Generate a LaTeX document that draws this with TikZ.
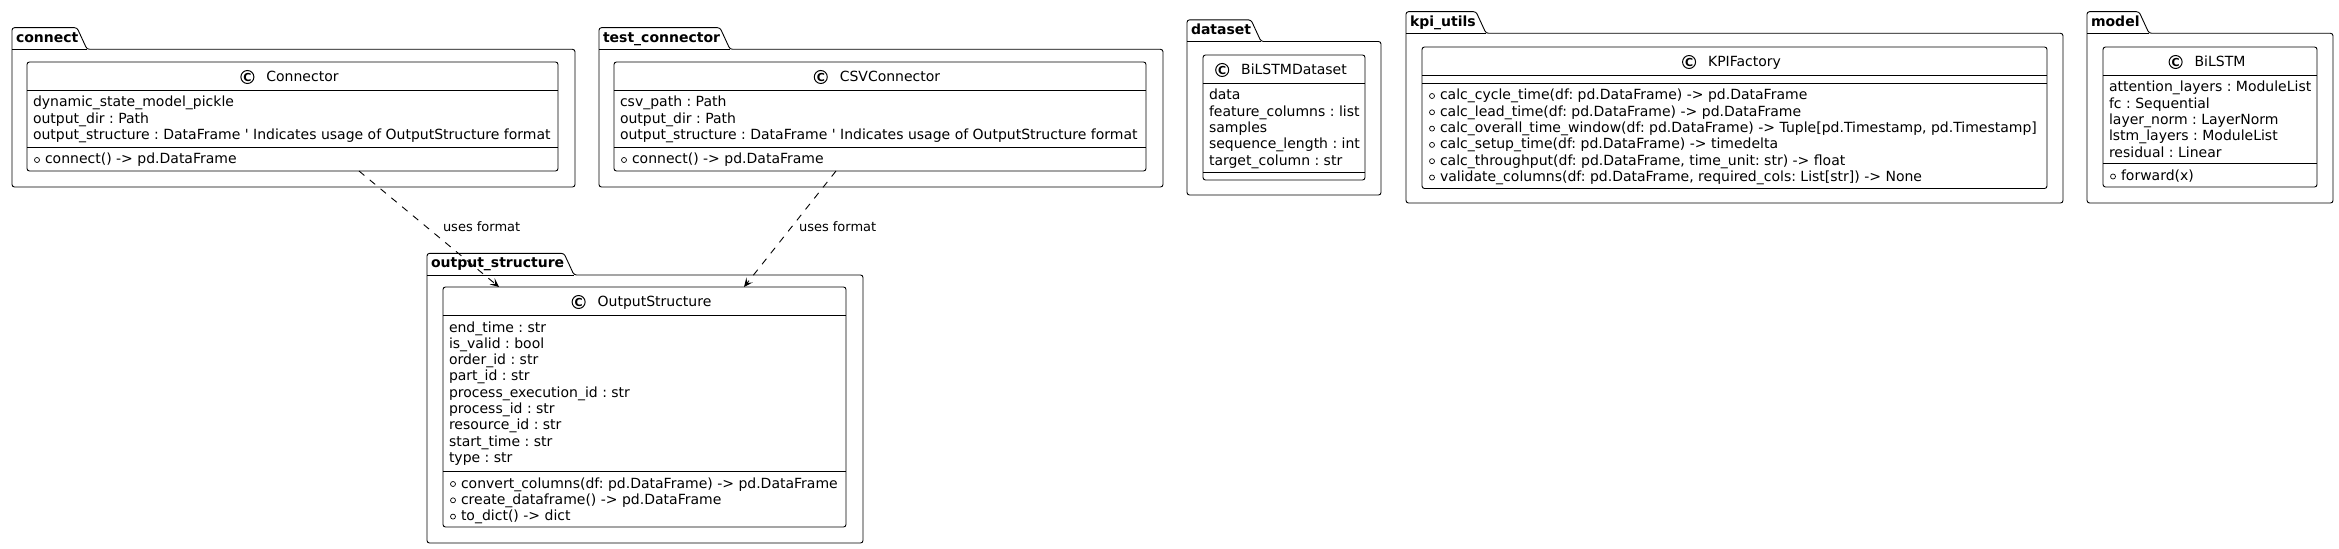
\documentclass[tikz,border=0pt]{standalone}
\usepackage{fontspec}
\setmainfont{DejaVu Sans}
\usetikzlibrary{arrows.meta}
\frenchspacing
\newcounter{tn}
\newcommand{\tl}[3]{\stepcounter{tn}\node[txt] (txt\arabic{tn}) at (#1,#2) {#3};}
\newcommand{\ml}[3]{\stepcounter{tn}\node[vis] (mk\arabic{tn}) at (#1+10,#2-4) {};\node[txt] (txt\arabic{tn}) at (#1+18,#2) {#3};}
\newcommand{\clstitle}[4]{\node[ttl] (#1T) at (#2+10,#3+20) {#4};\node[spot] (#1C) at ([shift={(-19,-5)}]#1T.base west) {C};}
\newcommand{\pkgpath}[8]{% name, label, L, T, sx, BT, R, B
  \draw[pkg] (#3,#8) -- (#3,#4) -- (#5,#4) -- (#5+10,#6) -- (#7,#6) -- (#7,#8) -- cycle;
  \draw[pkg] (#3,#6) -- (#5+10,#6);
  \node[pkgname] (#1) at (#3+4,#6-7) {#2};}
\begin{document}
\begin{tikzpicture}[x=1bp,y=-1bp,
  every node/.style={inner sep=0pt, outer sep=0pt},
  txt/.style={anchor=base west, font=\fontsize{14bp}{16bp}\selectfont\frenchspacing},
  ttl/.style={anchor=base, font=\fontsize{14bp}{16bp}\selectfont},
  pkgname/.style={anchor=base west, font=\fontsize{14bp}{16bp}\selectfont\bfseries},
  lbl/.style={anchor=base west, font=\fontsize{13bp}{15bp}\selectfont},
  pkg/.style={draw=black, line width=0.9bp, rounded corners=2.5bp},
  cls/.style={draw=black, line width=0.9bp, rounded corners=2.5bp, fill=white, rectangle},
  div/.style={draw=black, line width=0.9bp},
  spot/.style={circle, draw=black, line width=1bp, minimum size=13bp, font=\fontsize{11bp}{11bp}\selectfont\bfseries},
  vis/.style={circle, draw=black, line width=0.7bp, minimum size=5bp},
  dep/.style={draw=black, line width=0.9bp, dash pattern=on 7bp off 7bp, -{Stealth[length=9bp,width=8bp,inset=4bp]}},
]
\useasboundingbox (0,0) rectangle (2339,549);

% packages
\pkgpath{pconnect}{connect}{12}{27.7}{77}{49.3}{575}{187}
\pkgpath{ptest}{test\_connector}{599}{27.7}{720}{49.3}{1163}{187}
\pkgpath{pdataset}{dataset}{1187}{19.9}{1251}{41.5}{1381}{195}
\pkgpath{pkpi}{kpi\_utils}{1406}{11.7}{1476}{33.3}{2063}{203}
\pkgpath{pmodel}{model}{2087}{11.7}{2139}{33.3}{2333}{203}
\pkgpath{poutput}{output\_structure}{427}{253.4}{564}{275}{863}{543}

% Connector
\node[cls, minimum width=531bp, minimum height=109bp] (connector) at (292.5,116.5) {};
\draw[div] (27,90) -- (558,90);
\draw[div] (27,147) -- (558,147);
\clstitle{connectorN}{292.5}{62}{Connector}
\tl{33}{107}{dynamic\_state\_model\_pickle}
\tl{33}{123.3}{output\_dir : Path}
\tl{33}{139.6}{output\_structure : DataFrame \textquotesingle{} Indicates usage of OutputStructure format}
\ml{27}{164}{connect() -> pd.DataFrame}

% CSVConnector
\node[cls, minimum width=532bp, minimum height=109bp] (csvconnector) at (880,116.5) {};
\draw[div] (614,90) -- (1146,90);
\draw[div] (614,147) -- (1146,147);
\clstitle{csvN}{880}{62}{CSVConnector}
\tl{620}{107}{csv\_path : Path}
\tl{620}{123.3}{output\_dir : Path}
\tl{620}{139.6}{output\_structure : DataFrame \textquotesingle{} Indicates usage of OutputStructure format}
\ml{614}{164}{connect() -> pd.DataFrame}

% BiLSTMDataset
\node[cls, minimum width=162bp, minimum height=125bp] (bilstmdataset) at (1284,117.5) {};
\draw[div] (1203,83) -- (1365,83);
\draw[div] (1203,172) -- (1365,172);
\clstitle{dsN}{1284}{55}{BiLSTMDataset}
\tl{1209}{100}{data}
\tl{1209}{116.3}{feature\_columns : list}
\tl{1209}{132.6}{samples}
\tl{1209}{148.9}{sequence\_length : int}
\tl{1209}{165.2}{target\_column : str}

% KPIFactory
\node[cls, minimum width=625bp, minimum height=141.5bp] (kpifactory) at (1734.5,117.75) {};
\draw[div] (1422,75) -- (2047,75);
\draw[div] (1422,83) -- (2047,83);
\clstitle{kpiN}{1734.5}{47}{KPIFactory}
\ml{1422}{100}{calc\_cycle\_time(df: pd.DataFrame) -> pd.DataFrame}
\ml{1422}{116.3}{calc\_lead\_time(df: pd.DataFrame) -> pd.DataFrame}
\ml{1422}{132.6}{calc\_overall\_time\_window(df: pd.DataFrame) -> Tuple[pd.Timestamp, pd.Timestamp]}
\ml{1422}{148.9}{calc\_setup\_time(df: pd.DataFrame) -> timedelta}
\ml{1422}{165.2}{calc\_throughput(df: pd.DataFrame, time\_unit: str) -> float}
\ml{1422}{181.5}{validate\_columns(df: pd.DataFrame, required\_cols: List[str]) -> None}

% BiLSTM
\node[cls, minimum width=214bp, minimum height=140bp] (bilstm) at (2210,117) {};
\draw[div] (2103,75) -- (2317,75);
\draw[div] (2103,163.5) -- (2317,163.5);
\clstitle{bilstmN}{2210}{47}{BiLSTM}
\tl{2109}{92}{attention\_layers : ModuleList}
\tl{2109}{108.3}{fc : Sequential}
\tl{2109}{124.6}{layer\_norm : LayerNorm}
\tl{2109}{140.9}{lstm\_layers : ModuleList}
\tl{2109}{157.2}{residual : Linear}
\ml{2103}{180.5}{forward(x)}

% OutputStructure
\node[cls, minimum width=403bp, minimum height=240bp] (outputstructure) at (644.5,407) {};
\draw[div] (443,315) -- (846,315);
\draw[div] (443,471) -- (846,471);
\clstitle{osN}{644.5}{287}{OutputStructure}
\tl{449}{332}{end\_time : str}
\tl{449}{348.3}{is\_valid : bool}
\tl{449}{364.6}{order\_id : str}
\tl{449}{380.9}{part\_id : str}
\tl{449}{397.2}{process\_execution\_id : str}
\tl{449}{413.5}{process\_id : str}
\tl{449}{429.8}{resource\_id : str}
\tl{449}{446.1}{start\_time : str}
\tl{449}{462.4}{type : str}
\ml{443}{488}{convert\_columns(df: pd.DataFrame) -> pd.DataFrame}
\ml{443}{504.3}{create\_dataframe() -> pd.DataFrame}
\ml{443}{520.6}{to\_dict() -> dict}

% connectors
\coordinate (s1) at (359,171);
\coordinate (e1) at (499,287);
\coordinate (s2) at (836,171);
\coordinate (e2) at (744,287);
\draw[dep] (s1) -- (e1);
\draw[dep] (s2) -- (e2);
\node[lbl] (lab1) at (443,232) {uses format};
\node[lbl] (lab2) at (799,232) {uses format};
\end{tikzpicture}
\end{document}
